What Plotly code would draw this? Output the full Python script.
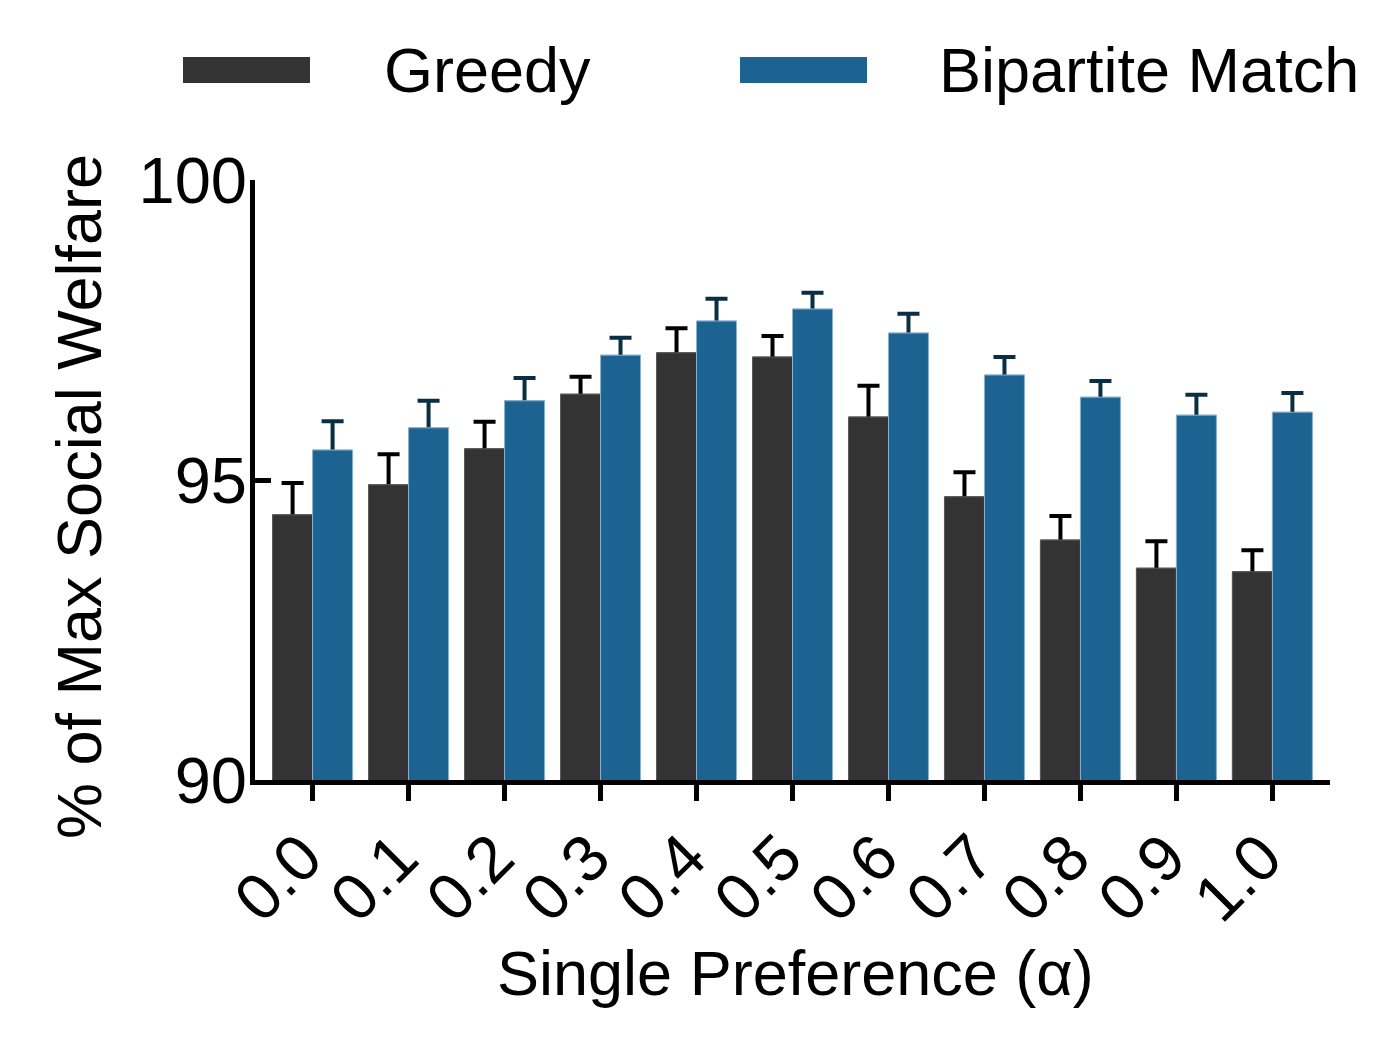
import plotly.graph_objects as go

categories = ["0.0", "0.1", "0.2", "0.3", "0.4", "0.5", "0.6", "0.7", "0.8", "0.9", "1.0"]
greedy = [94.42, 94.92, 95.52, 96.43, 97.12, 97.05, 96.05, 94.72, 94.00, 93.53, 93.47]
greedy_err = [0.53, 0.51, 0.45, 0.29, 0.41, 0.35, 0.52, 0.41, 0.40, 0.45, 0.36]
bipartite = [95.50, 95.87, 96.32, 97.08, 97.65, 97.85, 97.45, 96.75, 96.38, 96.08, 96.13]
bipartite_err = [0.48, 0.45, 0.38, 0.29, 0.37, 0.27, 0.32, 0.30, 0.27, 0.34, 0.32]

FONT = "Liberation Sans, Arial, sans-serif"
FS = 63
TFS = 65
GREEDY_C = "#333333"
BIP_C = "#1d6391"

series = [
    ("Greedy", greedy, greedy_err, GREEDY_C, "#5a5a5a", "#000000", "g"),
    ("Bipartite Match", bipartite, bipartite_err, BIP_C, "#8db3cf", "#0b2f42", "b"),
]

fig = go.Figure()
# bars carrying the (symmetric) error bars; the lower half is hidden by the bars drawn on top
for name, vals, errs, col, lcol, ecol, grp in series:
    fig.add_trace(go.Bar(
        x=categories, y=vals, name=name, offsetgroup=grp,
        marker=dict(color=col, line=dict(color=lcol, width=1)),
        error_y=dict(type="data", symmetric=True, array=errs, color=ecol,
                     thickness=4, width=11),
        showlegend=False, hoverinfo="skip",
    ))
for name, vals, errs, col, lcol, ecol, grp in series:
    fig.add_trace(go.Bar(
        x=categories, y=vals, name=name, offsetgroup=grp,
        marker=dict(color=col, line=dict(color=lcol, width=1)),
        showlegend=False,
    ))

OFF = 8  # page offset of the figure inside the browser window
W, H = 1392, 1059
L, T = 255 - OFF, 180 - OFF
pw, ph = 1075, 600
R = W - L - pw
B = H - T - ph

def px(x):
    return (x - OFF - L) / pw

def py(y):
    return (T + ph - (y - OFF)) / ph

shapes = [
    dict(type="rect", xref="paper", yref="paper", x0=px(183), x1=px(310), y0=py(83), y1=py(57),
         fillcolor=GREEDY_C, line=dict(width=0)),
    dict(type="rect", xref="paper", yref="paper", x0=px(740), x1=px(867), y0=py(83), y1=py(57),
         fillcolor=BIP_C, line=dict(width=0)),
]
annotations = [
    dict(text="Greedy", xref="paper", yref="paper", x=px(382), y=py(70), xanchor="left",
         yanchor="middle", showarrow=False, font=dict(size=FS, color="black", family=FONT)),
    dict(text="Bipartite Match", xref="paper", yref="paper", x=px(937), y=py(70), xanchor="left",
         yanchor="middle", showarrow=False, font=dict(size=FS, color="black", family=FONT)),
    dict(text="% of Max Social Welfare", xref="paper", yref="paper", x=px(79), y=py(497),
         xanchor="center", yanchor="middle", textangle=-90, showarrow=False,
         font=dict(size=FS, color="black", family=FONT)),
    dict(text="Single Preference (α)", xref="paper", yref="paper", x=px(795), y=py(973),
         xanchor="center", yanchor="middle", showarrow=False,
         font=dict(size=FS, color="black", family=FONT)),
]

fig.update_layout(
    width=W, height=H,
    margin=dict(l=L, r=R, t=T, b=B, pad=0),
    paper_bgcolor="white", plot_bgcolor="white",
    barmode="group", bargap=1 / 6, bargroupgap=0,
    font=dict(family=FONT, size=FS, color="black"),
    shapes=shapes, annotations=annotations,
    xaxis=dict(
        type="category", range=[-0.6, 10.6], tickangle=-45,
        showline=True, linecolor="black", linewidth=5,
        ticks="outside", ticklen=16, tickwidth=5, tickcolor="black",
        showgrid=False, zeroline=False,
        ticklabelshift=-10, ticklabelstandoff=-8,
        tickfont=dict(size=TFS, family=FONT, color="black"),
    ),
    yaxis=dict(
        range=[90, 100], tickvals=[90, 95, 100], ticktext=["90", "95", "100"],
        showline=True, linecolor="black", linewidth=5,
        ticks="inside", ticklen=16, tickwidth=5, tickcolor="black",
        showgrid=False, zeroline=False,
        ticklabelstandoff=-10,
        tickfont=dict(size=TFS, family=FONT, color="black"),
    ),
)

fig.write_html("out.html")
